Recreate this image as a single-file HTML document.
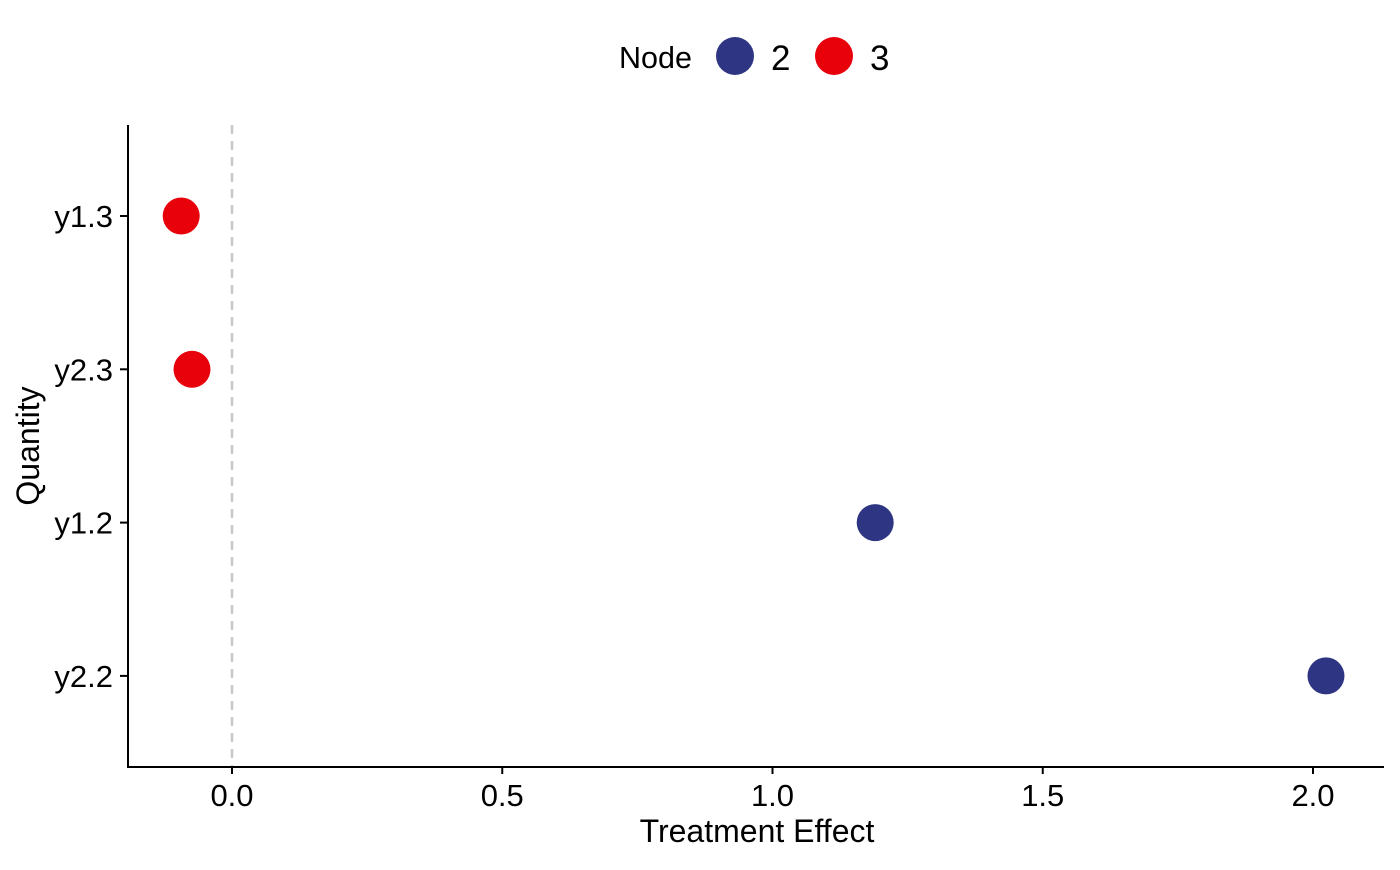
<!DOCTYPE html>
<html><head><meta charset="utf-8"><style>
html,body{margin:0;padding:0;background:#fff;}
svg text{font-family:"Liberation Sans",Arial,sans-serif;}
</style></head><body>
<svg id="chart" width="1400" height="865" xmlns="http://www.w3.org/2000/svg">
<g id="legend">
<text x="619" y="68" font-size="30.5" fill="#000">Node</text>
<circle cx="735" cy="56" r="19" fill="#2E3583"/>
<text x="771" y="70" font-size="35" fill="#000">2</text>
<circle cx="834" cy="56" r="19" fill="#E8000B"/>
<text x="870" y="70" font-size="35" fill="#000">3</text>
</g>
<g id="plot"></g>
</svg>
<script>
const categories = ["y1.3","y2.3","y1.2","y2.2"];
const values = [-0.094,-0.074,1.19,2.024];
const nodes = ["3","3","2","2"];
const xTicks = [0,0.5,1.0,1.5,2.0];
const xTickLabels = ["0.0","0.5","1.0","1.5","2.0"];
const colors = {"2":"#2E3583","3":"#E8000B"};

const NS="http://www.w3.org/2000/svg";
const g=document.getElementById('plot');
function x(v){return 232+v*540.5;}
function y(i){return 216+i*153.3;}
function mk(t,a){const e=document.createElementNS(NS,t);for(const k in a)e.setAttribute(k,a[k]);g.appendChild(e);return e;}
let zl=mk('line',{x1:x(0),x2:x(0),y1:125,y2:767,stroke:'#c8c8c8','stroke-width':2.5,'stroke-dasharray':'9,7'});


let ya=mk('line',{x1:128,x2:128,y1:125,y2:768,stroke:'#000','stroke-width':2});


let xa=mk('line',{x1:127,x2:1384,y1:767,y2:767,stroke:'#000','stroke-width':2});


xTicks.forEach((v,i)=>{
  let t=mk('line',{x1:x(v),x2:x(v),y1:767,y2:774,stroke:'#000','stroke-width':2});
  
  
  let l=mk('text',{x:x(v),y:806,'font-size':31,'text-anchor':'middle',fill:'#000'});
  l.textContent=xTickLabels[i];
  
  
});
categories.forEach((c,i)=>{
  let t=mk('line',{x1:120,x2:128,y1:y(i),y2:y(i),stroke:'#000','stroke-width':2});
  
  
  let l=mk('text',{x:113,y:y(i)+11,'font-size':31,'text-anchor':'end',fill:'#000'});
  l.textContent=c;
  
  
  let p=mk('circle',{cx:x(values[i]),cy:y(i),r:18.5,fill:colors[nodes[i]]});
  
  
});
let xt=mk('text',{x:757,y:842,'font-size':32,'text-anchor':'middle',fill:'#000'});
xt.textContent='Treatment Effect';


let yt=mk('text',{x:0,y:0,'font-size':32,'text-anchor':'middle',fill:'#000',transform:'translate(39,446) rotate(-90)'});
yt.textContent='Quantity';


</script>
</body></html>
